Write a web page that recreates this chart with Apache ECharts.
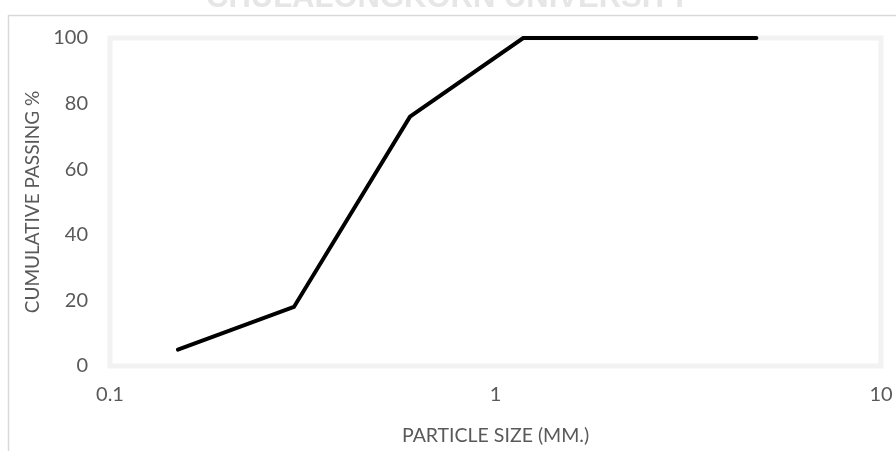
<!DOCTYPE html>
<html>
<head>
<meta charset="utf-8">
<style>
  html, body { margin: 0; padding: 0; background: #ffffff; }
  #chart { width: 896px; height: 451px; }
</style>
<script src="https://cdn.jsdelivr.net/npm/echarts@6/dist/echarts.min.js"></script>
</head>
<body>
<div id="chart"></div>
<script>
// Sieve sizes (mm) and cumulative percentage passing
const sieveSizes = [0.15, 0.3, 0.6, 1.18, 2.36, 4.75];
const passingPct = [5, 18, 76, 100, 100, 100];

// Axis ranges and labels
const xTicks = [0.1, 1, 10];
const yTicks = [0, 20, 40, 60, 80, 100];
const xAxisTitle = 'PARTICLE SIZE (MM.)';
const yAxisTitle = 'CUMULATIVE PASSING %';
const headerText = 'CHULALONGKORN UNIVERSITY';

const points = sieveSizes.map((s, i) => [s, passingPct[i]]);

const chart = echarts.init(document.getElementById('chart'), null, { renderer: 'canvas' });

const labelFont = 'Lato, "Open Sans", sans-serif';

chart.setOption({
  animation: false,
  backgroundColor: '#ffffff',
  grid: {
    left: 110, right: 15, top: 38, bottom: 82.5,
    show: true,
    borderColor: '#f2f2f2',
    borderWidth: 5,
    backgroundColor: 'transparent'
  },
  graphic: [
    {
      type: 'rect',
      shape: { x: 8.5, y: 15.5, width: 1000, height: 1000 },
      style: { fill: 'none', stroke: '#d9d9d9', lineWidth: 1.5 },
      silent: true,
      z: -1
    },
    {
      type: 'text',
      left: 'center',
      top: -17,
      style: {
        text: headerText,
        font: 'bold 31px "Liberation Sans", Arial, sans-serif',
        fill: '#e6e6e6'
      },
      silent: true
    }
  ],
  xAxis: {
    type: 'log',
    logBase: 10,
    min: xTicks[0],
    max: xTicks[xTicks.length - 1],
    name: xAxisTitle,
    nameLocation: 'middle',
    nameGap: 60,
    nameTextStyle: { color: '#595959', fontSize: 19.5, fontFamily: labelFont },
    axisLine: { show: false },
    axisTick: { show: false },
    splitLine: { show: false },
    minorTick: { show: false },
    axisLabel: {
      color: '#595959',
      fontSize: 20,
      fontFamily: labelFont,
      margin: 19,
      formatter: v => String(v)
    }
  },
  yAxis: {
    type: 'value',
    min: yTicks[0],
    max: yTicks[yTicks.length - 1],
    interval: 20,
    name: yAxisTitle,
    nameLocation: 'middle',
    nameGap: 67,
    nameTextStyle: { color: '#595959', fontSize: 19, fontFamily: labelFont },
    axisLine: { show: false },
    axisTick: { show: false },
    splitLine: { show: false },
    axisLabel: {
      color: '#595959',
      fontSize: 20,
      fontFamily: labelFont,
      margin: 22
    }
  },
  series: [
    {
      type: 'line',
      data: points,
      showSymbol: false,
      lineStyle: { color: '#000000', width: 4, cap: 'round', join: 'miter' },
      clip: false
    }
  ]
});
</script>
</body>
</html>
